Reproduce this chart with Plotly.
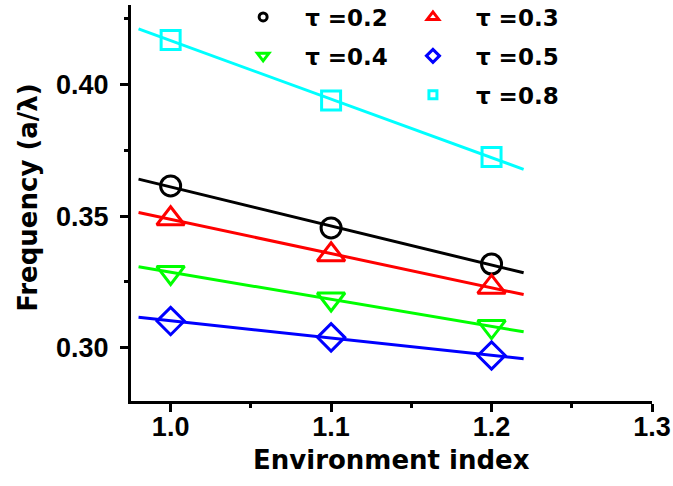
import numpy as np
import plotly.graph_objects as go

# Environment index values at which the frequency was computed
env_index = [1.0, 1.1, 1.2]

# Normalised frequency (a/lambda) for each tau
freq_tau_02 = [0.3615, 0.3455, 0.3318]
freq_tau_03 = [0.3490, 0.3353, 0.3230]
freq_tau_04 = [0.3286, 0.3185, 0.3080]
freq_tau_05 = [0.3101, 0.3039, 0.2970]
freq_tau_08 = [0.4170, 0.3940, 0.3725]

# Extent of the linear fit lines
fit_range = [0.98, 1.22]

series = [
    ("τ =0.2", freq_tau_02, "#000000", "circle-open", 20, 8, "legend"),
    ("τ =0.3", freq_tau_03, "#FF0000", "triangle-up-open", 24, 10, "legend2"),
    ("τ =0.4", freq_tau_04, "#00FF00", "triangle-down-open", 24, 10, "legend"),
    ("τ =0.5", freq_tau_05, "#0000FF", "diamond-open", 21, 10, "legend2"),
    ("τ =0.8", freq_tau_08, "#00FFFF", "square-open", 19, 8, "legend2"),
]

fig = go.Figure()

for name, vals, color, symbol, msize, lsize, leg in series:
    slope, intercept = np.polyfit(env_index, vals, 1)
    xf = np.array(fit_range)
    fig.add_trace(go.Scatter(
        x=xf, y=slope * xf + intercept, mode="lines",
        line=dict(color=color, width=3), showlegend=False, hoverinfo="skip",
    ))
    fig.add_trace(go.Scatter(
        x=env_index, y=vals, mode="markers", name=name,
        marker=dict(symbol=symbol, size=msize, color=color, line=dict(color=color, width=3)),
        showlegend=False,
    ))
    # legend-only entry with a small marker
    fig.add_trace(go.Scatter(
        x=[None], y=[None], mode="markers", name=name, legend=leg,
        legendgroup=name,
        marker=dict(symbol=symbol, size=lsize, color=color, line=dict(color=color, width=3)),
    ))

tick_font = dict(family="Liberation Sans", size=27, color="black", weight="bold")
legend_font = dict(family="DejaVu Sans", size=23, color="black", weight="bold")
title_font = dict(family="DejaVu Sans", size=26, color="black", weight="bold")

fig.update_layout(
    width=673, height=486,
    margin=dict(l=131, r=21, t=5, b=85, autoexpand=False),
    paper_bgcolor="white", plot_bgcolor="white",
    showlegend=True,
    legend=dict(x=0.173, y=1.024, xanchor="left", yanchor="top",
                font=legend_font, bgcolor="rgba(0,0,0,0)", tracegroupgap=6,
                itemsizing="trace", itemwidth=74),
    legend2=dict(x=0.497, y=1.024, xanchor="left", yanchor="top",
                 font=legend_font, bgcolor="rgba(0,0,0,0)", tracegroupgap=6,
                 itemsizing="trace", itemwidth=76),
    xaxis=dict(
        range=[0.9753, 1.3], tickvals=[1.0, 1.1, 1.2, 1.3],
        ticktext=["1.0", "1.1", "1.2", "1.3"],
        showgrid=False, zeroline=False, showline=True, linecolor="black", linewidth=3,
        ticks="outside", ticklen=8, tickwidth=3, tickcolor="black",
        minor=dict(tickvals=[1.05, 1.15, 1.25], ticks="outside", ticklen=4,
                   tickwidth=3, tickcolor="black", showgrid=False),
        tickfont=tick_font, ticklabelstandoff=-8,
    ),
    yaxis=dict(
        range=[0.2797, 0.4303], tickvals=[0.30, 0.35, 0.40],
        ticktext=["0.30", "0.35", "0.40"],
        showgrid=False, zeroline=False, showline=True, linecolor="black", linewidth=3,
        ticks="outside", ticklen=8, tickwidth=3, tickcolor="black",
        minor=dict(tickvals=[0.325, 0.375, 0.425], ticks="outside", ticklen=4,
                   tickwidth=3, tickcolor="black", showgrid=False),
        tickfont=tick_font, ticklabelstandoff=6,
    ),
    annotations=[
        dict(text="Environment index", xref="paper", yref="paper",
             x=0.5, y=-0.148, xanchor="center", yanchor="middle",
             showarrow=False, font=title_font),
        dict(text="Frequency (a/λ)", xref="paper", yref="paper",
             x=-0.197, y=0.514, xanchor="center", yanchor="middle",
             textangle=-90, showarrow=False, font=title_font),
    ],
)

fig.write_html("out.html")
